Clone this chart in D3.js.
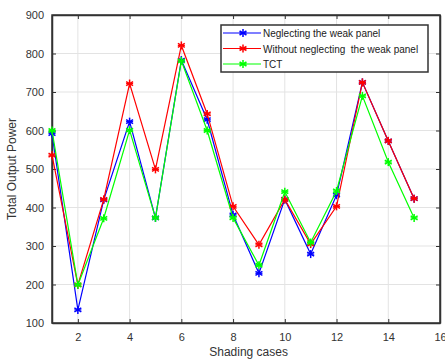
<!DOCTYPE html>
<html>
<head>
<meta charset="utf-8">
<script src="https://cdn.jsdelivr.net/npm/d3@7"></script>
<style>
  body { margin: 0; background: #fff; }
  text { font-family: "Liberation Sans", Arial, sans-serif; }
</style>
</head>
<body>
<script>
var cases = [1, 2, 3, 4, 5, 6, 7, 8, 9, 10, 11, 12, 13, 14, 15];
var neglecting = [592, 134, 420, 623, 373, 783, 628, 381, 229, 421, 279, 432, 725, 573, 423];
var withoutNeglecting = [536, 199, 421, 722, 499, 821, 643, 403, 303, 421, 305, 403, 725, 573, 423];
var tct = [600, 199, 372, 601, 373, 781, 600, 373, 250, 441, 309, 443, 690, 518, 373];
var seriesNames = ["Neglecting the weak panel", "Without neglecting  the weak panel", "TCT"];
var seriesColors = ["#0000ff", "#ff0000", "#00ff00"];
var xTicks = [2, 4, 6, 8, 10, 12, 14, 16];
var yTicks = [100, 200, 300, 400, 500, 600, 700, 800, 900];

var margin = { top: 15, right: 5, bottom: 37, left: 52 },
    width = 445 - margin.left - margin.right,
    height = 360 - margin.top - margin.bottom;

var svg = d3.select("body").append("svg")
    .attr("width", 445)
    .attr("height", 360);

var g = svg.append("g")
    .attr("transform", "translate(" + margin.left + "," + margin.top + ")");

var x = d3.scaleLinear().domain([1, 16]).range([0, width]);
var y = d3.scaleLinear().domain([100, 900]).range([height, 0]);

// grid
g.append("g").selectAll("line").data(xTicks).enter().append("line")
    .attr("x1", function(d) { return x(d); }).attr("x2", function(d) { return x(d); })
    .attr("y1", 0).attr("y2", height)
    .attr("stroke", "#e3e3e3").attr("stroke-width", 1);
g.append("g").selectAll("line").data(yTicks).enter().append("line")
    .attr("y1", function(d) { return y(d); }).attr("y2", function(d) { return y(d); })
    .attr("x1", 0).attr("x2", width)
    .attr("stroke", "#e3e3e3").attr("stroke-width", 1);

// axes
g.append("g")
    .attr("transform", "translate(0," + height + ")")
    .call(d3.axisBottom(x).tickValues(xTicks).tickSizeInner(-4).tickSizeOuter(0).tickPadding(10));
g.append("g")
    .call(d3.axisLeft(y).tickValues(yTicks).tickSizeInner(-4).tickSizeOuter(0).tickPadding(8));
g.append("g")
    .attr("transform", "translate(" + width + ",0)")
    .call(d3.axisRight(y).tickValues(yTicks).tickSizeInner(-4).tickSizeOuter(0).tickFormat(""));
g.append("g")
    .call(d3.axisTop(x).tickValues(xTicks).tickSizeInner(-4).tickSizeOuter(0).tickFormat(""));

g.selectAll(".domain").attr("stroke", "#333").attr("stroke-width", 1.5);
g.selectAll(".tick line").attr("stroke", "#333");
g.selectAll(".tick text").attr("fill", "#333").style("font-size", "11px");

g.append("rect")
    .attr("width", width).attr("height", height)
    .attr("fill", "none").attr("stroke", "#333").attr("stroke-width", 1.5);

// lines
var data = [neglecting, withoutNeglecting, tct];
var line = d3.line()
    .x(function(d, i) { return x(cases[i]); })
    .y(function(d) { return y(d); });

function star(sel, cx, cy, color) {
    var r = 4;
    [0, 60, 120].forEach(function(a) {
        var rad = a * Math.PI / 180;
        sel.append("line")
            .attr("x1", cx - r * Math.sin(rad)).attr("y1", cy - r * Math.cos(rad))
            .attr("x2", cx + r * Math.sin(rad)).attr("y2", cy + r * Math.cos(rad))
            .attr("stroke", color).attr("stroke-width", 1.5);
    });
    sel.append("line")
        .attr("x1", cx - 3.5).attr("x2", cx + 3.5).attr("y1", cy).attr("y2", cy)
        .attr("stroke", color).attr("stroke-width", 1.2);
}

data.forEach(function(s, k) {
    g.append("path")
        .datum(s)
        .attr("d", line)
        .attr("fill", "none")
        .attr("stroke", seriesColors[k])
        .attr("stroke-width", 1.2);
    var mg = g.append("g");
    s.forEach(function(v, i) {
        star(mg, x(cases[i]), y(v), seriesColors[k]);
    });
});

// legend
var lg = svg.append("g").attr("transform", "translate(221,25)");
lg.append("rect")
    .attr("width", 207).attr("height", 47)
    .attr("fill", "#fff").attr("stroke", "#333").attr("stroke-width", 1.5);
seriesNames.forEach(function(n, k) {
    var yy = 8 + k * 15.5;
    lg.append("line")
        .attr("x1", 2).attr("x2", 40).attr("y1", yy).attr("y2", yy)
        .attr("stroke", seriesColors[k]).attr("stroke-width", 1.2);
    star(lg, 22, yy, seriesColors[k]);
    lg.append("text")
        .attr("x", 42).attr("y", yy + 4)
        .style("font-size", "10px")
        .attr("fill", "#222")
        .style("white-space", "pre")
        .text(n);
});

// labels
svg.append("text")
    .attr("x", margin.left + x(8.6)).attr("y", 356)
    .style("text-anchor", "middle")
    .style("font-size", "12px")
    .attr("fill", "#333")
    .text("Shading cases");
svg.append("text")
    .attr("transform", "translate(16," + (margin.top + height / 2) + ") rotate(-90)")
    .style("text-anchor", "middle")
    .style("font-size", "12px")
    .attr("fill", "#333")
    .text("Total Output Power");
</script>
</body>
</html>
